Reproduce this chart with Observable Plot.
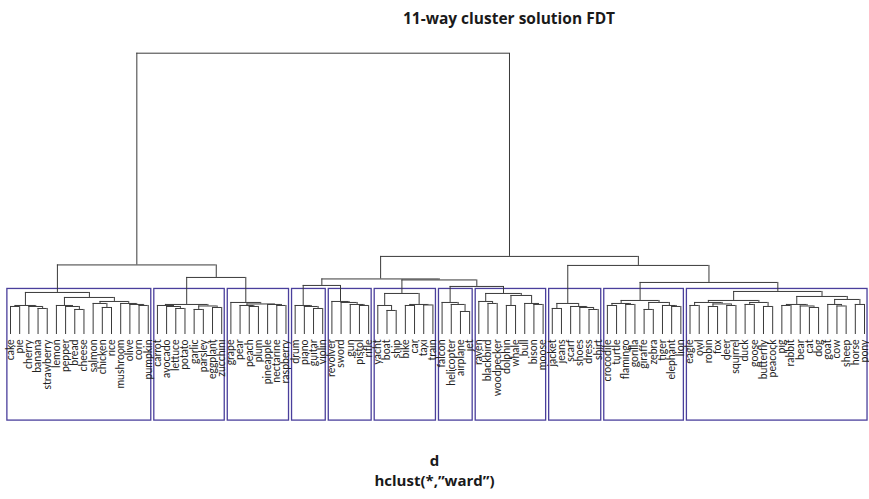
<!DOCTYPE html>
<html><head><meta charset="utf-8">
<script src="https://cdn.jsdelivr.net/npm/d3@7"></script>
<script src="https://cdn.jsdelivr.net/npm/@observablehq/plot@0.6"></script>
<style>
body{margin:0;background:#fff;width:869px;height:499px;overflow:hidden;font-family:"Open Sans",sans-serif;}
#title{position:relative;height:36px;}
#title span{position:absolute;left:509px;top:18px;transform:translate(-50%,-50%);font-weight:700;font-size:15.5px;color:#1a1a1a;white-space:nowrap;}
#chart svg{display:block;}
#caption{height:59px;text-align:center;font-weight:700;font-size:15px;line-height:20px;padding-top:10px;box-sizing:border-box;color:#1a1a1a;}
#caption div{height:20px;}
</style></head><body>
<div id="title"><span>11-way cluster solution FDT</span></div>
<div id="chart"></div>
<div id="caption"><div>d</div><div>hclust(*,”ward”)</div></div>
<script>
// Each node: [merge height, left, right]; leaves are labels.
const food = [4.2, [2.9, [2.8, "cake", "pie"], [2.8, "cherry", [2.6, "banana", "strawberry"]]],
  [3.7, [2.9, "lemon", [2.8, "pepper", [2.5, "bread", "cheese"]]],
        [3.3, [3.1, "salmon", [2.7, "chicken", "rice"]], [3.1, "mushroom", [3.0, "olive", [2.9, "corn", "pumpkin"]]]]]];
const vegetables = [3.0, [2.9, "carrot", [2.8, "avocado", [2.6, "lettuce", "potato"]]], [2.85, [2.5, "garlic", "parsley"], [2.7, "eggplant", "zucchini"]]];
const fruit = [3.2, "grape", [3.05, [2.9, "pear", [2.8, "peach", "plum"]], [3.0, "pineapple", [2.9, "nectarine", "raspberry"]]]];
const music = [2.9, "drum", [2.8, "piano", [2.6, "guitar", "violin"]]];
const weapons = [3.3, "revolver", [3.2, "sword", [3.0, "gun", [2.9, "pistol", "rifle"]]]];
const vehicles = [4.1, [2.9, "yacht", [2.4, "boat", "ship"]], [3.0, [2.9, "bike", "car"], [2.95, "taxi", "train"]]];
const aircraft = [3.2, "falcon", [3.0, "helicopter", [2.3, "airplane", "jet"]]];
const wildlife = [4.1, [3.3, "raven", [3.1, "blackbird", "woodpecker"]], [3.9, [2.9, "dolphin", "whale"], [3.1, "bull", [3.0, "bison", "moose"]]]];
const clothing = [3.1, [2.6, "jacket", "jeans"], [2.8, "scarf", [2.7, "shoes", [2.5, "dress", "shirt"]]]];
const zoo = [3.4, [3.1, [2.9, "crocodile", "turtle"], [3.0, "flamingo", "gorilla"]], [3.2, [2.5, "giraffe", "zebra"], [2.9, "tiger", [2.8, "elephant", "lion"]]]];
const animals = [4.3,
  [3.4, [3.2, [2.9, "eagle", "owl"], [3.05, [2.8, "robin", "fox"], [2.9, "deer", "squirrel"]]], [3.2, [3.0, "duck", "goose"], [2.8, "butterfly", "peacock"]]],
  [3.8, [3.0, [2.9, "pig", "rabbit"], [2.85, "bear", [2.7, "cat", "dog"]]], [3.5, [3.0, "goat", [2.85, "cow", "sheep"]], [3.0, "horse", "pony"]]]];

const upperTree = [28.1,
  [6.95, food, [5.7, vegetables, fruit]],
  [7.8, [5.55, [4.9, music, weapons], [5.45, vehicles, [4.8, aircraft, wildlife]]],
        [6.9, clothing, [5.2, zoo, animals]]]];

const clusters = [food, vegetables, fruit, music, weapons, vehicles, aircraft, wildlife, clothing, zoo, animals];

// ---- layout (R plot.hclust style, hang = -1) ----
const leaves = [], hLines = [], vLines = [], heights = [];
const info = new Map();
function lay(node) {
  if (typeof node === "string") { leaves.push(node); const x = leaves.length; return {x, h: 0, first: x, last: x}; }
  const [h, a, b] = node;
  const A = lay(a), B = lay(b);
  heights.push(h);
  hLines.push({x1: A.x, x2: B.x, y: h});
  vLines.push({x: A.x, y1: A.h, y2: h}, {x: B.x, y1: B.h, y2: h});
  const r = {x: (A.x + B.x) / 2, h, first: A.first, last: B.last};
  info.set(node, r);
  return r;
}
const root = lay(upperTree);
const K = clusters.length;
const sortedH = heights.slice().sort((a, b) => b - a);
const boxTop = (sortedH[K - 2] + sortedH[K - 1]) / 2;
const plotBottom = -8.6; // bottom of R's plot region (usr[3])
const boxes = clusters.map(c => { const r = info.get(c); return {x1: r.first - 0.34, x2: r.last + 0.33, y1: plotBottom, y2: boxTop}; });
const leafData = leaves.map((name, i) => ({name, x: i + 1, y: 0}));

const chart = Plot.plot({
  width: 869, height: 404, margin: 0,
  x: {domain: [1, leaves.length], range: [10, 864], axis: null},
  y: {domain: [0, root.h], range: [298, 16.7], axis: null},
  style: {background: "#fff", overflow: "visible"},
  marks: [
    Plot.rect(boxes, {x1: "x1", x2: "x2", y1: "y1", y2: "y2", fill: "none", stroke: "#4a3f9c", strokeWidth: 1.3}),
    Plot.ruleX(vLines, {x: "x", y1: "y1", y2: "y2", stroke: "#3a3a3a", strokeWidth: 1}),
    Plot.ruleY(hLines, {x1: "x1", x2: "x2", y: "y", stroke: "#3a3a3a", strokeWidth: 1}),
    Plot.text(leafData, {x: "x", y: "y", text: "name", rotate: -90, textAnchor: "end", dy: 5, fontSize: 10.5, fontFamily: "Lato", fill: "#222"})
  ]
});
document.getElementById("chart").appendChild(chart);
</script>
</body></html>
